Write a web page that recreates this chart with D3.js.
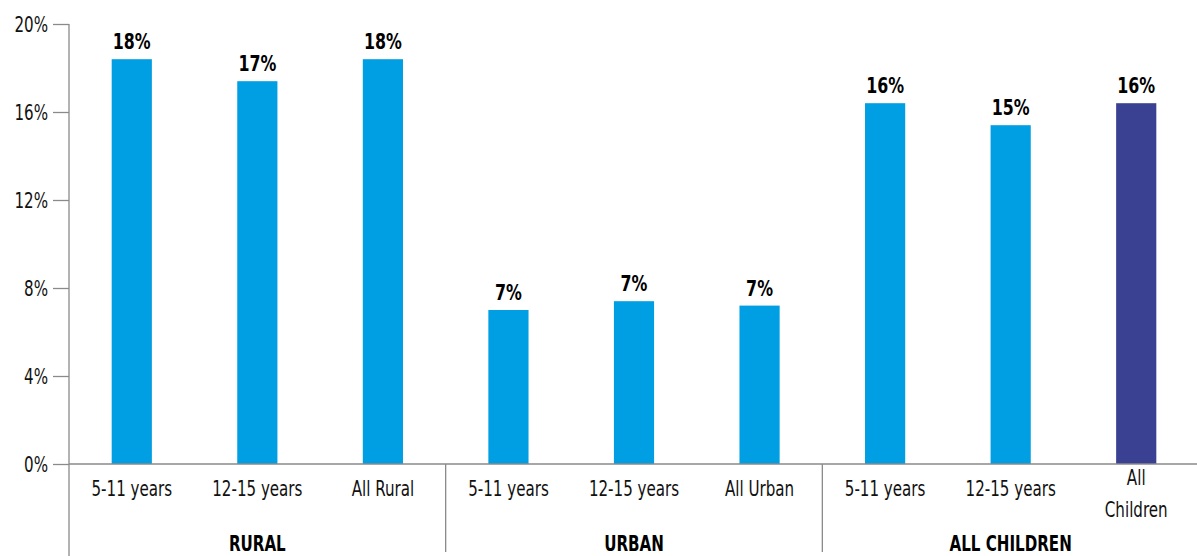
<!DOCTYPE html>
<html>
<head>
<meta charset="utf-8">
<script src="https://cdn.jsdelivr.net/npm/d3@7"></script>
<style>
  html, body { margin: 0; padding: 0; background: #fff; }
  svg { display: block; font-family: "DejaVu Sans", sans-serif; font-stretch: condensed; }
</style>
</head>
<body>
<svg id="chart" width="1197" height="556"></svg>
<script>
// Share of children, by area and age band
const groups = ["RURAL", "URBAN", "ALL CHILDREN"];
const categories = ["5-11 years", "12-15 years", "All Rural",
                    "5-11 years", "12-15 years", "All Urban",
                    "5-11 years", "12-15 years", "All Children"];
const categoryGroup = [0, 0, 0, 1, 1, 1, 2, 2, 2];
const values = [18.4, 17.4, 18.4, 7.0, 7.4, 7.2, 16.4, 15.4, 16.4];
const highlight = [false, false, false, false, false, false, false, false, true];
const yTicks = [0, 4, 8, 12, 16, 20];

const svg = d3.select("#chart");
const W = 1197, H = 556;
const plotLeft = 69, plotRight = 1199, plotTop = 24, plotBottom = 464;
const squeeze = 0.8;   // narrow the glyphs horizontally

const keys = categories.map((c, i) => i);
const x = d3.scaleBand().domain(keys).range([plotLeft, plotRight]).paddingInner(0.68).paddingOuter(0.34);
const y = d3.scaleLinear().domain([0, 20]).range([plotBottom, plotTop]);

const axisColor = "#8a8a8a";

// y axis
const yAxis = svg.append("g")
  .attr("transform", `translate(${plotLeft},0)`)
  .call(d3.axisLeft(y).tickValues(yTicks).tickSize(16).tickPadding(5).tickFormat(d => d + "%"))
  .attr("font-family", null)
  .attr("font-size", null);
yAxis.select(".domain").remove();
yAxis.selectAll(".tick line").attr("stroke", axisColor).attr("stroke-width", 1.3);
yAxis.selectAll(".tick text")
  .attr("font-size", 21).attr("fill", "#111")
  .attr("x", 0)
  .attr("dy", "0.36em")
  .attr("transform", `translate(-21,0) scale(${squeeze},1)`);

// vertical axis line runs down through the category area
svg.append("line")
  .attr("x1", plotLeft).attr("x2", plotLeft).attr("y1", plotTop).attr("y2", H)
  .attr("stroke", axisColor).attr("stroke-width", 1.3);

// bars
svg.append("g").selectAll("rect")
  .data(keys)
  .join("rect")
  .attr("x", i => x(i))
  .attr("width", x.bandwidth())
  .attr("y", i => y(values[i]))
  .attr("height", i => y(0) - y(values[i]))
  .attr("fill", i => highlight[i] ? "#3b4192" : "#009fe3");

// value labels
svg.append("g").selectAll("text")
  .data(keys)
  .join("text")
  .attr("transform", i => `translate(${x(i) + x.bandwidth() / 2},${y(values[i]) - 10}) scale(${squeeze},1)`)
  .attr("text-anchor", "middle")
  .attr("font-size", 22)
  .attr("font-weight", "bold")
  .attr("fill", "#000")
  .text(i => Math.round(values[i]) + "%");

// baseline
svg.append("line")
  .attr("x1", plotLeft).attr("x2", W).attr("y1", plotBottom).attr("y2", plotBottom)
  .attr("stroke", axisColor).attr("stroke-width", 1.3);

// category labels (multi-word "All Children" wraps)
const catG = svg.append("g");
keys.forEach(i => {
  const cx = x(i) + x.bandwidth() / 2;
  const label = categories[i];
  const lines = label === "All Children" ? ["All", "Children"] : [label];
  lines.forEach((ln, k) => {
    const ty = lines.length > 1 ? 485 + k * 32 : 496;
    catG.append("text")
      .attr("transform", `translate(${cx},${ty}) scale(${squeeze},1)`)
      .attr("text-anchor", "middle")
      .attr("font-size", 21)
      .attr("fill", "#111")
      .text(ln);
  });
});

// group separators and group labels
const step = x.step();
groups.forEach((g, gi) => {
  const members = keys.filter(i => categoryGroup[i] === gi);
  const first = x(members[0]) + x.bandwidth() / 2;
  const last = x(members[members.length - 1]) + x.bandwidth() / 2;
  if (gi > 0) {
    const sx = first - step / 2;
    svg.append("line")
      .attr("x1", sx).attr("x2", sx).attr("y1", plotBottom).attr("y2", 552)
      .attr("stroke", axisColor).attr("stroke-width", 1.3);
  }
  svg.append("text")
    .attr("transform", `translate(${(first + last) / 2},551) scale(${squeeze},1)`)
    .attr("text-anchor", "middle")
    .attr("font-size", 21)
    .attr("font-weight", "bold")
    .attr("fill", "#000")
    .text(g);
});
</script>
</body>
</html>
